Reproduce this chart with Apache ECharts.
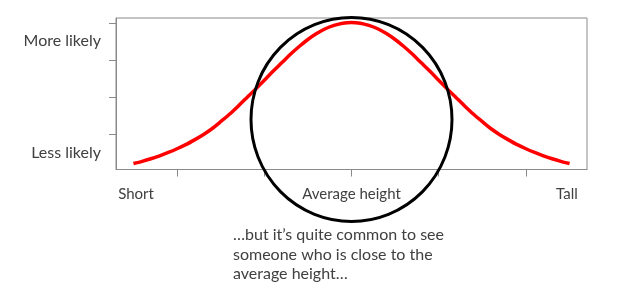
<!DOCTYPE html>
<html>
<head>
<meta charset="utf-8">
<script src="https://cdn.jsdelivr.net/npm/echarts@6/dist/echarts.min.js"></script>
<style>
html,body{margin:0;padding:0;background:#fff;}
#chart{width:639px;height:305px;}
</style>
</head>
<body>
<div id="chart"></div>
<script>
// Height in standard-deviation units from the average
var heightPos = [-2.5,-2.4,-2.3,-2.2,-2.1,-2.0,-1.9,-1.8,-1.7,-1.6,-1.5,-1.4,-1.3,-1.2,-1.1,-1.0,-0.9,-0.8,-0.7,-0.6,-0.5,-0.4,-0.3,-0.2,-0.1,0,
  0.1,0.2,0.3,0.4,0.5,0.6,0.7,0.8,0.9,1.0,1.1,1.2,1.3,1.4,1.5,1.6,1.7,1.8,1.9,2.0,2.1,2.2,2.3,2.4,2.5];
// Likelihood
var likelihood = [0.20,0.26,0.33,0.41,0.50,0.60,0.71,0.84,0.98,1.14,1.33,1.53,1.75,1.98,2.21,2.45,2.69,2.92,3.15,3.36,3.55,3.71,3.84,3.93,3.99,4.01,
  3.99,3.93,3.84,3.71,3.55,3.36,3.15,2.92,2.69,2.45,2.21,1.98,1.75,1.53,1.33,1.14,0.98,0.84,0.71,0.60,0.50,0.41,0.33,0.26,0.20];
var xTickValues = [-2,-1,0,1,2];
var xLabelValues = [-2.47,0,2.47];
var xLabels = ['Short','Average height','Tall'];
var yTickValues = [1,2,3,4];
var yLabelValues = [0.5,3.5];
var yLabels = ['Less likely','More likely'];
var highlightCenter = [0, 1.39];
var caption = '\u2026but it\u2019s quite common to see\nsomeone who is close to the\naverage height\u2026';

var curve = heightPos.map(function(x,i){return [x, likelihood[i]];});
var FONT = 'Lato';
var TXT = '#404040';
var chart = echarts.init(document.getElementById('chart'), null, {renderer:'canvas'});
chart.setOption({
  animation:false,
  grid:{left:116,right:52,top:18,bottom:135.5,show:true,borderColor:'#8a8a8a',borderWidth:1,containLabel:false},
  xAxis:{type:'value',min:-2.7,max:2.7,
    axisLine:{show:true,onZero:false,lineStyle:{color:'#8a8a8a',width:1}},
    axisTick:{show:true,customValues:xTickValues,length:7,lineStyle:{color:'#8a8a8a'}},
    axisLabel:{customValues:xLabelValues,margin:17,color:TXT,fontFamily:FONT,fontSize:15,
      formatter:function(v){var i=xLabelValues.indexOf(v);return i>=0?xLabels[i]:'';}},
    splitLine:{show:false}},
  yAxis:{type:'value',min:0.04,max:4.13,
    axisLine:{show:true,onZero:false,lineStyle:{color:'#8a8a8a',width:1}},
    axisTick:{show:true,customValues:yTickValues,length:7,lineStyle:{color:'#8a8a8a'}},
    axisLabel:{customValues:yLabelValues,margin:15,color:TXT,fontFamily:FONT,fontSize:16,
      formatter:function(v){var i=yLabelValues.indexOf(v);return i>=0?yLabels[i]:'';}},
    splitLine:{show:false}},
  series:[
    {type:'line',data:curve,smooth:0.3,showSymbol:false,symbol:'none',
      lineStyle:{color:'#ff0000',width:3.5},z:2},
    {type:'scatter',data:[highlightCenter],symbol:'circle',symbolSize:[201,204],clip:false,
      itemStyle:{color:'rgba(0,0,0,0)',borderColor:'#000',borderWidth:3,opacity:1},z:3,silent:true}
  ],
  graphic:[{type:'text',left:233,top:225,style:{text:caption,font:'16px '+FONT,fill:TXT,lineHeight:19.6}}]
});
</script>
</body>
</html>
